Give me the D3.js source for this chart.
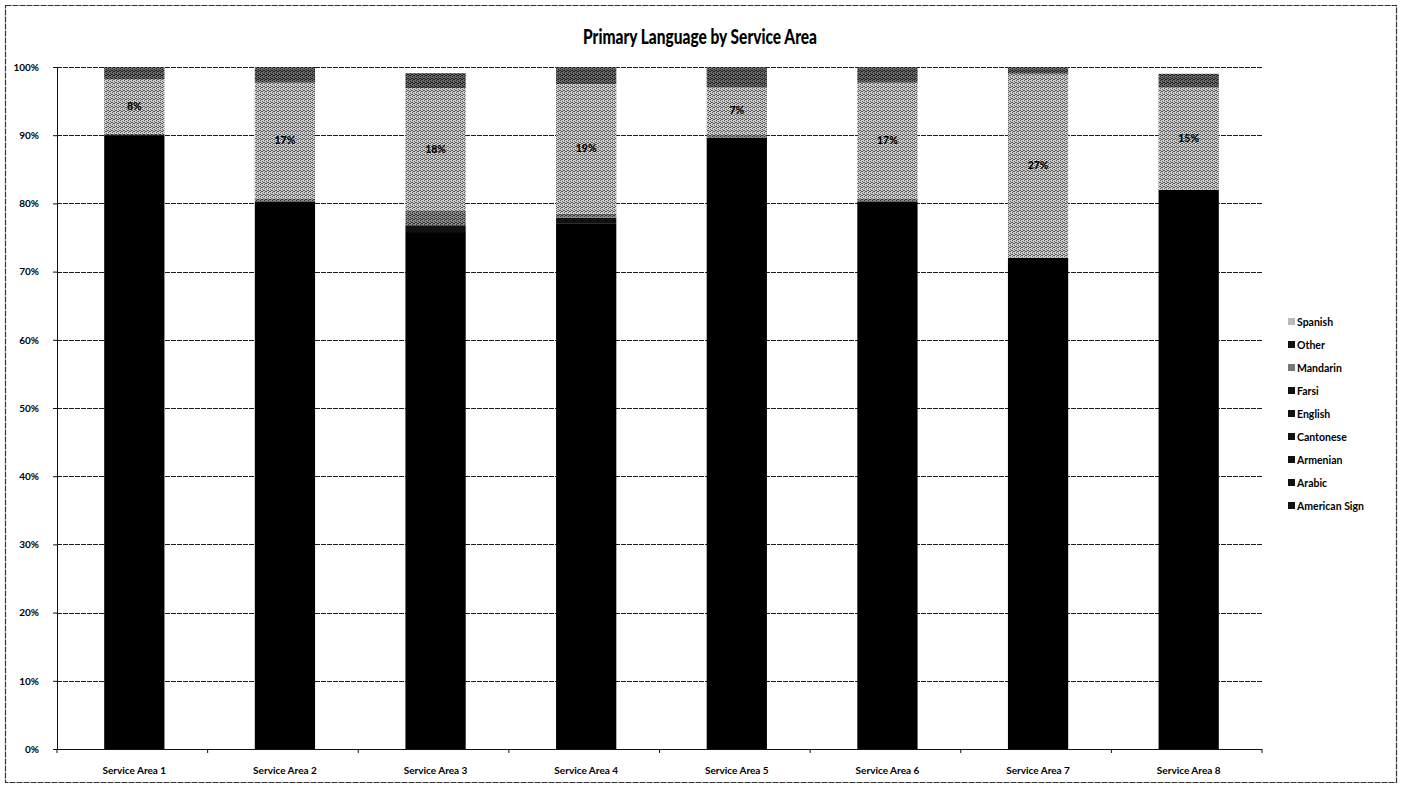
<!DOCTYPE html>
<html>
<head>
<meta charset="utf-8">
<script src="https://cdn.jsdelivr.net/npm/d3@7"></script>
<style>
  body { margin: 0; background: #fff; }
  svg { display: block; }
  text { font-family: Lato, "Open Sans", sans-serif; fill: #000; }
</style>
</head>
<body>
<svg id="chart" width="1401" height="787"></svg>
<script>
// Service areas along the x axis
const areas = ["Service Area 1", "Service Area 2", "Service Area 3", "Service Area 4",
               "Service Area 5", "Service Area 6", "Service Area 7", "Service Area 8"];

// Share of clients by primary language (percent), one value per service area
const americanSign = [0, 0, 0, 0, 0, 0, 0, 0];
const arabic       = [0, 0, 0, 0, 0, 0, 0, 0];
const armenian     = [0, 0, 0, 0, 0, 0, 0, 0];
const cantonese    = [0, 0, 0, 0, 0, 0, 0, 0];
const english      = [90, 80.3, 75.8, 77, 89.6, 80.3, 72, 82];
const farsi        = [0, 0, 1, 0.9, 0, 0, 0, 0];
const mandarin     = [0.2, 0.4, 2.1, 0.6, 0.4, 0.4, 0, 0];
const spanish      = [8, 17, 18, 19, 7, 17, 27, 15];
const other        = [1.8, 2.3, 2.2, 2.5, 3, 2.3, 1, 2];

// Tick labels on the value axis
const yTicks = [0, 10, 20, 30, 40, 50, 60, 70, 80, 90, 100];

// Stack order from the baseline upward
const seriesKeys = ["American Sign", "Arabic", "Armenian", "Cantonese", "English",
                    "Farsi", "Mandarin", "Spanish", "Other"];
const seriesValues = {
  "American Sign": americanSign, "Arabic": arabic, "Armenian": armenian,
  "Cantonese": cantonese, "English": english, "Farsi": farsi,
  "Mandarin": mandarin, "Spanish": spanish, "Other": other
};
// Order the legend lists its entries in
const legendKeys = ["Spanish", "Other", "Mandarin", "Farsi", "English",
                    "Cantonese", "Armenian", "Arabic", "American Sign"];

const rows = areas.map((a, i) => {
  const r = { area: a };
  seriesKeys.forEach(k => r[k] = seriesValues[k][i]);
  return r;
});

const svg = d3.select("#chart");
const defs = svg.append("defs");

// Halftone-style fills
function halftone(id, base, dot, size) {
  const p = defs.append("pattern").attr("id", id)
    .attr("patternUnits", "userSpaceOnUse").attr("width", size).attr("height", size);
  p.append("rect").attr("width", size).attr("height", size).attr("fill", base);
  const cells = [[0,0],[2,1],[1,3],[3,2],[0,2],[2,3]];
  cells.forEach(([x, y]) => p.append("rect").attr("x", x).attr("y", y)
    .attr("width", 1).attr("height", 1).attr("fill", dot));
  return `url(#${id})`;
}
const fills = {
  "American Sign": "#111",
  "Arabic": "#1a1a1a",
  "Armenian": "#222",
  "Cantonese": halftone("pCant", "#555", "#111", 4),
  "English": "#000",
  "Farsi": "#111",
  "Mandarin": halftone("pMand", "#8a8a8a", "#333", 4),
  "Spanish": halftone("pSpan", "#cdcdcd", "#5a5a5a", 4),
  "Other": halftone("pOther", "#6a6a6a", "#1e1e1e", 4)
};

const margin = { left: 57, right: 1262, top: 67, bottom: 749 };

const x = d3.scaleBand().domain(areas).range([margin.left + 2, margin.right + 2])
  .paddingInner(0.6).paddingOuter(0.3);
const y = d3.scaleLinear().domain([0, 100]).range([margin.bottom, margin.top]);

// Outer frame
svg.append("rect").attr("x", 5.5).attr("y", 5.5).attr("width", 1391).attr("height", 777)
  .attr("fill", "none").attr("stroke", "#333").attr("stroke-width", 1.2)
  .attr("stroke-dasharray", "6,1");

// Title
svg.append("text").attr("x", 700).attr("y", 44).attr("text-anchor", "middle")
  .attr("font-size", 20).attr("font-weight", 900)
  .attr("textLength", 234).attr("lengthAdjust", "spacingAndGlyphs")
  .text("Primary Language by Service Area");

// Horizontal gridlines
svg.append("g").selectAll("line").data(yTicks.filter(t => t > 0)).join("line")
  .attr("x1", margin.left).attr("x2", margin.right)
  .attr("y1", d => Math.round(y(d)) + 0.5).attr("y2", d => Math.round(y(d)) + 0.5)
  .attr("stroke", "#1a1a1a").attr("stroke-width", 1).attr("stroke-dasharray", "5,1");

// Value axis
const yAxis = svg.append("g").attr("transform", `translate(${margin.left},0)`)
  .call(d3.axisLeft(y).tickValues(yTicks).tickFormat(d => d + "%").tickSize(4).tickPadding(14));
yAxis.select(".domain").attr("stroke", "#111");
yAxis.selectAll(".tick line").attr("stroke", "#111");
yAxis.selectAll("text").attr("font-size", 10).attr("font-weight", 700)
  .style("font-family", "Lato, sans-serif").attr("fill", "#000");

// Stacked columns
const stacked = d3.stack().keys(seriesKeys)(rows);
svg.append("g").selectAll("g").data(stacked).join("g")
  .attr("fill", d => fills[d.key])
  .selectAll("rect").data(d => d).join("rect")
  .attr("x", d => x(d.data.area))
  .attr("width", x.bandwidth())
  .attr("y", d => y(d[1]))
  .attr("height", d => Math.max(0, y(d[0]) - y(d[1])));

// Category axis
const xAxis = svg.append("g").attr("transform", `translate(0,${margin.bottom})`)
  .call(d3.axisBottom(x).tickSize(0).tickPadding(18));
xAxis.select(".domain").attr("stroke", "#111").attr("d", `M${margin.left},0.5H${margin.right}`);
xAxis.selectAll("text").attr("font-size", 10).attr("font-weight", 700)
  .style("font-family", "Lato, sans-serif").attr("fill", "#000");

// Tick marks between categories
const catStep = (margin.right - margin.left) / areas.length;
svg.append("g").selectAll("line").data(d3.range(areas.length + 1)).join("line")
  .attr("x1", i => margin.left + i * catStep)
  .attr("x2", i => margin.left + i * catStep)
  .attr("y1", margin.bottom).attr("y2", margin.bottom + 4)
  .attr("stroke", "#111");

// Data labels on the Spanish segments
const spanishLayer = stacked.find(s => s.key === "Spanish");
svg.append("g").selectAll("text").data(spanishLayer).join("text")
  .attr("x", d => x(d.data.area) + x.bandwidth() / 2)
  .attr("y", d => (y(d[0]) + y(d[1])) / 2 + 3)
  .attr("text-anchor", "middle").attr("font-size", 10.5).attr("font-weight", 900)
  .text(d => Math.round(d.data["Spanish"]) + "%");

// Legend
const legend = svg.append("g").attr("transform", "translate(1288,322)");
const li = legend.selectAll("g").data(legendKeys).join("g")
  .attr("transform", (d, i) => `translate(0,${i * 23})`);
li.append("rect").attr("x", 0).attr("y", -4).attr("width", 7).attr("height", 7)
  .attr("fill", d => d === "Spanish" ? "#bbb" : d === "Mandarin" ? "#777" : "#111");
li.append("text").attr("x", 9).attr("y", 3.5).attr("font-size", 10.5).attr("font-weight", 700)
  .text(d => d);
</script>
</body>
</html>
